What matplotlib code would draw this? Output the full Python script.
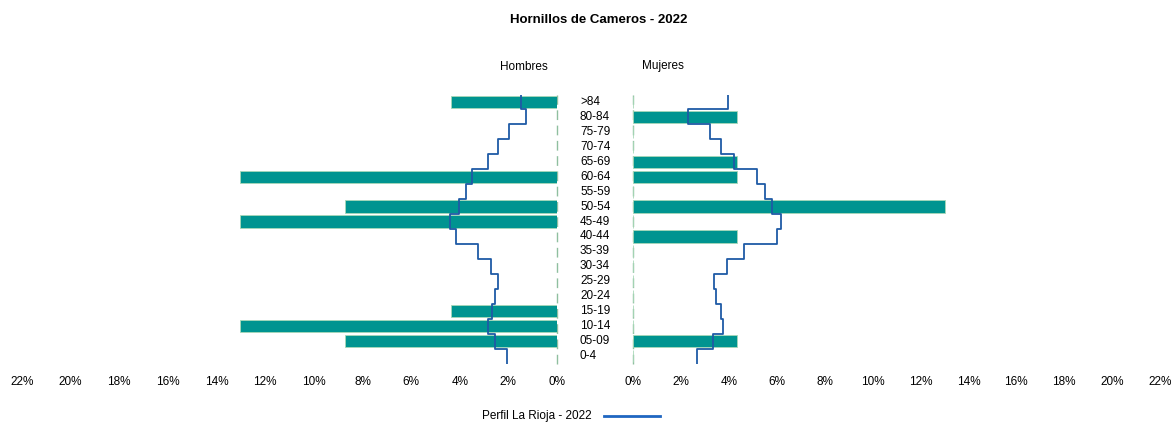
import numpy as np
import matplotlib
matplotlib.use("Agg")
import matplotlib.pyplot as plt
from matplotlib.lines import Line2D
import matplotlib.transforms as mtransforms

plt.rcParams['font.family'] = ['Liberation Sans', 'DejaVu Sans']

title = "Hornillos de Cameros - 2022"
ages = ["0-4", "05-09", "10-14", "15-19", "20-24", "25-29", "30-34", "35-39",
        "40-44", "45-49", "50-54", "55-59", "60-64", "65-69", "70-74", "75-79",
        "80-84", ">84"]
men_pct = [0, 8.70, 13.04, 4.35, 0, 0, 0, 0, 0, 13.04, 8.70, 0, 13.04, 0, 0, 0, 0, 4.35]
women_pct = [0, 4.35, 0, 0, 0, 0, 0, 0, 4.35, 0, 13.04, 0, 4.35, 4.35, 0, 0, 4.35, 0]
men_profile = [2.04, 2.54, 2.85, 2.66, 2.54, 2.44, 2.72, 3.24, 4.14, 4.42,
               4.02, 3.74, 3.50, 2.85, 2.44, 1.99, 1.28, 1.49]
women_profile = [2.66, 3.34, 3.76, 3.67, 3.45, 3.40, 3.91, 4.65, 6.00, 6.18,
                 5.82, 5.50, 5.18, 4.20, 3.69, 3.20, 2.28, 3.98]
xticks = [0, 2, 4, 6, 8, 10, 12, 14, 16, 18, 20, 22]
legend_label = "Perfil La Rioja - 2022"

W, H = 1176, 424
fig = plt.figure(figsize=(W / 100, H / 100), dpi=100)

bar_color = "#009490"
edge_color = "#a8d8b8"
line_color = "#1f5aa6"

y = np.arange(len(ages))
ax_bottom = 1 - 363.5 / H
ax_h = 269 / H
axL = fig.add_axes([22 / W, ax_bottom, 535 / W, ax_h])
axR = fig.add_axes([633 / W, ax_bottom, 527 / W, ax_h])


def step_xy(vals):
    ys = []
    xs = []
    for i, v in enumerate(vals):
        ys += [i - 0.5, i + 0.5]
        xs += [v, v]
    return np.array(xs), np.array(ys)


for ax, vals, prof in [(axL, men_pct, men_profile), (axR, women_pct, women_profile)]:
    ax.barh(y, vals, height=0.82, color=bar_color, edgecolor=edge_color, linewidth=0.6, zorder=2)
    xs, ys = step_xy(prof)
    ax.plot(xs, ys, color=line_color, lw=1.3, zorder=3)
    ax.axvline(0, color="#8fbf9f", lw=1.0, ls=(0, (7, 4)), zorder=1, clip_on=False)
    ax.set_ylim(-0.5, len(ages) - 0.5)
    ax.set_xticks(xticks)
    ax.set_xticklabels([f"{t}%" for t in xticks], fontsize=8.5)
    ax.tick_params(axis='x', length=0, pad=9)
    ax.set_yticks([])
    for s in ax.spines.values():
        s.set_visible(False)
    ax.patch.set_alpha(0)

axL.set_xlim(22, 0)
axR.set_xlim(0, 22)

trans = mtransforms.blended_transform_factory(axL.transAxes, axL.transData)
for i, lab in enumerate(ages):
    axL.text((580 - 22) / 535, i, lab, transform=trans, ha="left", va="center",
             fontsize=8.5, clip_on=False)

fig.text(599 / W, 1 - 20 / H, title, ha="center", va="center", fontsize=9.5, fontweight="bold")
fig.text(524 / W, 1 - 67 / H, "Hombres", ha="center", va="center", fontsize=8.5)
fig.text(663 / W, 1 - 66 / H, "Mujeres", ha="center", va="center", fontsize=8.5)

fig.text(592 / W, 1 - 416 / H, legend_label, ha="right", va="center", fontsize=8.5)
fig.add_artist(Line2D([604 / W, 660 / W], [1 - 416 / H, 1 - 416 / H],
                      transform=fig.transFigure, color="#1f66c1", lw=2))

fig.savefig("out.png", dpi=100)
